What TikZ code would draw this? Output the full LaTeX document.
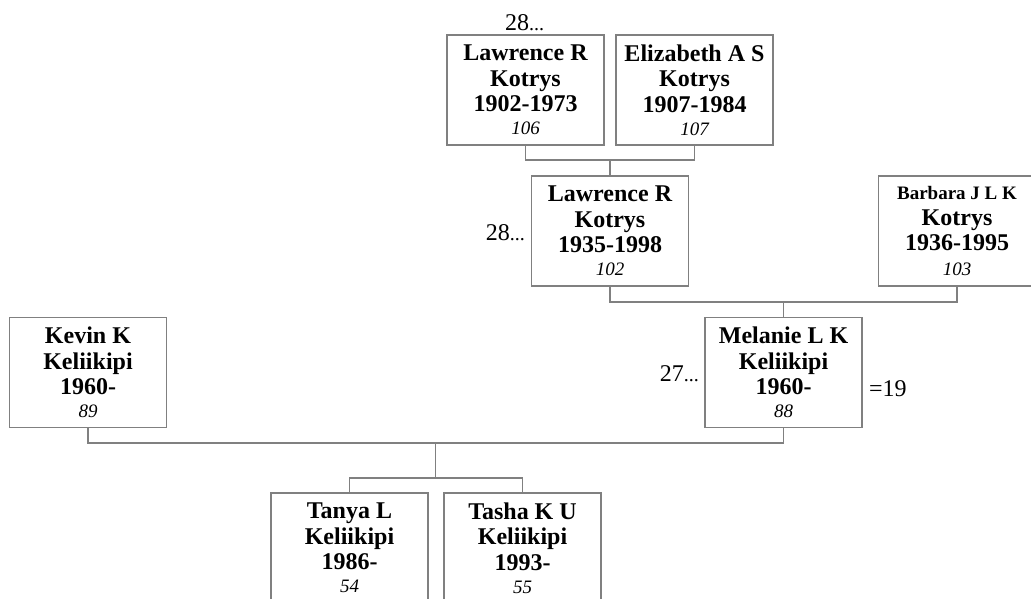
\documentclass[tikz,border=0pt]{standalone}
\usepackage{fontspec}
\setmainfont{Liberation Serif}
\usepackage{tikz}
\usepackage{xcolor}
\usetikzlibrary{positioning}

\definecolor{linegray}{RGB}{128,128,128}
\newcommand{\refno}[1]{{\mdseries\itshape\fontsize{19}{19}\selectfont #1}}

\begin{document}
\begin{tikzpicture}[x=1pt, y=-1pt, node distance=169pt, on grid, person/.style={rectangle, draw=linegray, line width=1.3pt, fill=white, inner sep=0pt, align=center, minimum width=157pt, minimum height=110pt, font=\fontsize{24}{25.5}\selectfont\bfseries}, link/.style={draw=linegray, line width=1.3pt}, gen/.style={inner sep=0pt, font=\fontsize{24}{24}\selectfont}]

            \useasboundingbox[fill=white] (0,0) rectangle (1031,598);
            \clip (0,0) rectangle (1031,598);

            \node[person] (P1) at (525.5,90) {Lawrence R\\ Kotrys\\ 1902-1973\\[-2.5pt]\refno{106}};
            \node[person, right=of P1] (P2) {Elizabeth A S\\ Kotrys\\ 1907-1984\\[-2.5pt]\refno{107}};
            \node[person] (P3) at (610,231) {Lawrence R\\ Kotrys\\ 1935-1998\\[-2.5pt]\refno{102}};
            \node[person, right=347pt of P3] (P4) {{\fontsize{19}{19}\selectfont Barbara J L K}\\ Kotrys\\ 1936-1995\\[-1pt]\refno{103}};
            \node[person] (P5) at (783.5,372.5) {Melanie L K\\ Keliikipi\\ 1960-\\[-2.5pt]\refno{88}};
            \node[person, left=695.5pt of P5] (P6) {Kevin K\\ Keliikipi\\ 1960-\\[-2.5pt]\refno{89}};
            \node[person] (P7) at (349.5,548) {Tanya L\\ Keliikipi\\ 1986-\\[-2.5pt]\refno{54}};
            \node[person, right=173pt of P7] (P8) {Tasha K U\\ Keliikipi\\ 1993-\\[-2.5pt]\refno{55}};

            \node[gen, anchor=base west] (G1) at (505,30) {28{\fontsize{20}{20}\selectfont ...}};
            \node[gen, anchor=base east] (G2) at (525,240) {28{\fontsize{20}{20}\selectfont ...}};
            \node[gen, anchor=base east] (G3) at (699,381) {27{\fontsize{20}{20}\selectfont ...}};
            \node[gen, anchor=base west] (G4) at (869,396) {=19};

            \coordinate (C1) at (610,160);
            \coordinate (C2) at (783.5,302);
            \coordinate (C3) at (435.75,443);
            \coordinate (C4) at (435.75,478);

            \draw[link] (P1.south) |- (C1) -| (P2.south);
            \draw[link] (C1) -- (P3.north);
            \draw[link] (P3.south) |- (C2) -| (P4.south);
            \draw[link] (C2) -- (P5.north);
            \draw[link] (P6.south) |- (C3) -| (P5.south);
            \draw[link] (C3) -- (C4);
            \draw[link] (P7.north) |- (C4) -| (P8.north);

        \end{tikzpicture}
\end{document}
